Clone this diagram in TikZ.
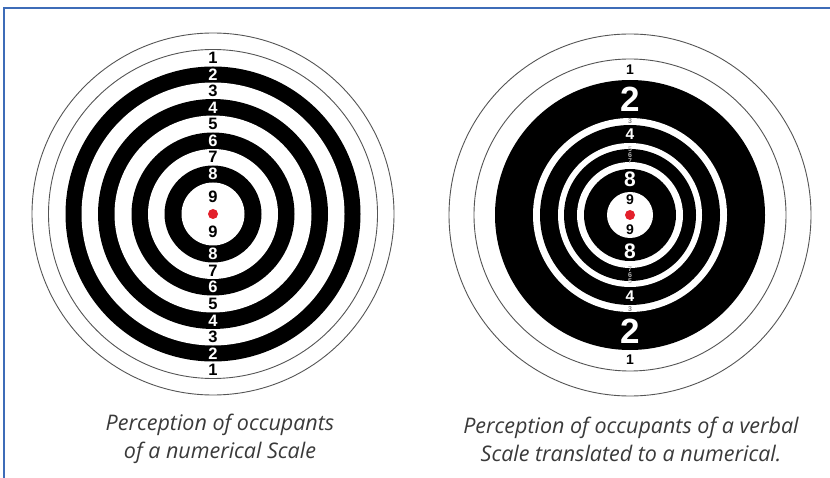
\documentclass[tikz,border=0pt]{standalone}
\usepackage{fontspec}
\setmainfont{Open Sans}
\newfontfamily\digitfont{Liberation Sans}
\definecolor{frameblue}{HTML}{3D6CB8}
\definecolor{dotred}{HTML}{E3202B}
\definecolor{captext}{HTML}{3A3A3A}
\definecolor{ringline}{HTML}{555555}
\tikzset{
  thinring/.style={draw=ringline, line width=0.9pt},
  numbase/.style={inner sep=0pt, anchor=center, font=\digitfont\bfseries\fontsize{#1}{#1}\selectfont},
  captionbox/.style={font=\itshape\fontsize{21.5}{28}\selectfont, text=captext, align=center, inner sep=0pt},
  framebar/.style={draw=frameblue, line width=2pt},
  reddot/.style={fill=dotred}
}
\begin{document}
\begin{tikzpicture}[x=1pt,y=-1pt]
\useasboundingbox (0,0) rectangle (830,478);
\fill[white] (0,0) rectangle (830,478);
% frame
\coordinate (fa) at (4,478);
\coordinate (fb) at (4,8);
\coordinate (fc) at (830,8);
\draw[framebar] (fa) -- (fb) -- (fc);
% ---------- left target ----------
\coordinate (L) at (213,214);
\draw[thinring] (L) circle[radius=181pt];
\draw[thinring] (L) circle[radius=164.5pt];
\foreach \r/\c in {147.5/black,131.5/white,115/black,98.5/white,81.5/black,65/white,48.5/black,31.5/white}{
  \fill[\c] (L) circle[radius=\r pt];
}
\fill[reddot] (L) circle[radius=5pt];
\foreach \n/\r/\c in {1/156/black,2/139.5/white,3/123/black,4/106.5/white,5/90/black,6/73/white,7/57/black,8/40/white,9/17.5/black}{
  \node[numbase=16.5, text=\c] (lt\n) at (213,{214-\r}) {\n};
  \node[numbase=16.5, text=\c] (lb\n) at (213,{214+\r}) {\n};
}
% ---------- right target ----------
\coordinate (R) at (630,215);
\draw[thinring] (R) circle[radius=181pt];
\draw[thinring] (R) circle[radius=156pt];
\foreach \r/\c in {135/black,97/white,90/black,72/white,66/black,53/white,46/black,23/white}{
  \fill[\c] (R) circle[radius=\r pt];
}
\fill[reddot] (R) circle[radius=5pt];
\foreach \n/\r/\c/\s in {1/145/black/14,2/116/white/35,3/94/gray/7,4/81/white/15.5,5/66/gray!60/7,6/60/gray!60/7,7/54/gray!60/7,8/36/white/21,9/15/black/14}{
  \node[numbase=\s, text=\c] (rt\n) at (630,{215-\r}) {\n};
  \node[numbase=\s, text=\c] (rb\n) at (630,{215+\r}) {\n};
}
% captions
\node[captionbox] (capL) at (220,439) {Perception of occupants\\of a numerical Scale};
\node[captionbox] (capR) at (631,439) {Perception of occupants of a verbal\\Scale translated to a numerical.};
\end{tikzpicture}
\end{document}
